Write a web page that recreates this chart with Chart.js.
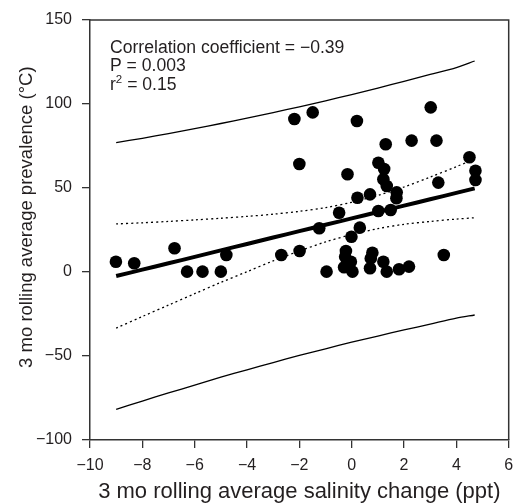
<!DOCTYPE html>
<html>
<head>
<meta charset="utf-8">
<script src="https://cdn.jsdelivr.net/npm/chart.js@4/dist/chart.umd.min.js"></script>
<style>
  html, body { margin: 0; padding: 0; background: #fff; }
  #wrap { width: 515px; height: 503px; }
</style>
</head>
<body>
<div id="wrap"><canvas id="c" width="515" height="503"></canvas></div>
<script>
// ---- Data ----
const salinityX = [-9.01, -8.31, -6.77, -6.29, -5.70, -5.00, -4.79, -2.69, -1.99,
  -2.19, -1.49, 0.20, 3.02, 1.30, 2.29, 3.24, -2.00,
  1.02, 1.24, 1.21, 1.34, -0.16, 0.22, 0.70, 1.72, 1.71, 3.31, 4.50, 4.73, 4.73,
  -0.48, 1.02, 1.49, -1.24, 0.31, -0.01,
  -0.22, -0.25, -0.03, -0.29, 0.03, -0.96, 0.79, 0.73, 1.21, 0.70, 1.34, 1.81, 2.19, 3.52];
const prevalenceY = [6.1, 5.2, 14.1, 0.2, 0.2, 0.2, 10.1, 10.1, 12.5,
  91.1, 95.0, 89.9, 98.0, 76.0, 78.2, 78.2, 64.3,
  65.0, 61.3, 55.2, 51.2, 58.2, 44.2, 46.2, 47.4, 43.9, 53.2, 68.3, 60.3, 54.8,
  35.3, 36.3, 36.9, 26.0, 26.4, 21.0,
  12.5, 9.1, 6.1, 2.8, 0.2, 0.2, 11.5, 8.1, 6.1, 2.2, 0.2, 1.6, 3.2, 10.1];

// regression line and bands, sampled along x
const bandX   = [-9, -8, -7, -6, -5, -4, -3, -2, -1, 0, 1, 2, 3, 4, 4.7];
const fitY    = [-2.4, 1.4, 5.2, 9.0, 12.9, 16.7, 20.5, 24.3, 28.1, 31.9, 35.7, 39.5, 43.3, 47.1, 49.8];
const ciUpper = [28.6, 29.3, 30.1, 31.0, 32.0, 33.1, 34.4, 36.1, 38.3, 41.5, 45.6, 50.6, 56.5, 62.7, 67.3];
const ciLower = [-33.4, -26.5, -19.7, -12.9, -6.2, 0.2, 6.6, 12.5, 17.9, 22.3, 25.8, 28.4, 30.1, 31.5, 32.3];
const piUpper = [77.0, 79.6, 82.4, 85.3, 88.4, 91.6, 94.9, 98.3, 101.9, 105.6, 109.5, 113.5, 117.6, 121.7, 125.6];
const piLower = [-81.8, -76.8, -72.0, -67.3, -62.6, -58.2, -53.9, -49.7, -45.7, -41.8, -38.1, -34.5, -31.0, -27.5, -25.6];

const xTicks = [-10, -8, -6, -4, -2, 0, 2, 4, 6];
const yTicks = [-100, -50, 0, 50, 100, 150];

const statLines = ['Correlation coefficient = \u22120.39', 'P = 0.003'];
const r2Value = '0.15';

const xTitle = '3 mo rolling average salinity change (ppt)';
const yTitle = '3 mo rolling average prevalence (\u00B0C)';

// ---- helpers ----
const pairs = (xs, ys) => xs.map((x, i) => ({ x: x, y: ys[i] }));
const fmt = v => String(v).replace('-', '\u2212');
const INK = '#231f20';
const FONT = '"Liberation Sans", Arial, Helvetica, sans-serif';

const lineDs = (data, width, dash) => ({
  type: 'line', data: data, borderColor: '#000', backgroundColor: '#000',
  borderWidth: width, borderDash: dash || [], pointRadius: 0, pointHoverRadius: 0,
  fill: false, tension: 0.3, showLine: true, order: 2
});

const framePlugin = {
  id: 'frame',
  afterDraw(chart) {
    const { ctx, chartArea: a } = chart;
    ctx.save();
    ctx.strokeStyle = '#333';
    ctx.lineWidth = 1.5;
    ctx.beginPath();
    ctx.moveTo(a.left, a.top);
    ctx.lineTo(a.right, a.top);
    ctx.lineTo(a.right, a.bottom);
    ctx.stroke();
    // statistics text
    ctx.fillStyle = INK;
    ctx.textBaseline = 'alphabetic';
    ctx.textAlign = 'left';
    const F = '17.6px ' + FONT;
    ctx.font = F;
    const x0 = a.left + 20;
    ctx.fillText(statLines[0], x0, 52.5);
    ctx.fillText(statLines[1], x0, 71);
    ctx.fillText('r', x0, 90);
    const rw = ctx.measureText('r').width;
    ctx.font = '11.5px ' + FONT;
    ctx.fillText('2', x0 + rw, 83);
    const sw = ctx.measureText('2').width;
    ctx.font = F;
    ctx.fillText(' = ' + r2Value, x0 + rw + sw, 90);
    ctx.restore();
  }
};

new Chart(document.getElementById('c'), {
  type: 'scatter',
  data: {
    datasets: [
      lineDs(pairs(bandX, piUpper), 1.3),
      lineDs(pairs(bandX, piLower), 1.3),
      lineDs(pairs(bandX, ciUpper), 1.3, [2, 3]),
      lineDs(pairs(bandX, ciLower), 1.3, [2, 3]),
      lineDs(pairs(bandX, fitY), 4),
      {
        type: 'scatter', data: pairs(salinityX, prevalenceY),
        backgroundColor: '#000', borderColor: '#000', borderWidth: 0,
        pointRadius: 6.3, pointHoverRadius: 6.3, order: 1
      }
    ]
  },
  options: {
    responsive: false,
    animation: false,
    devicePixelRatio: 1,
    events: [],
    layout: { padding: { left: 0, right: 5, top: 20, bottom: 0 } },
    plugins: { legend: { display: false }, tooltip: { enabled: false } },
    scales: {
      x: {
        type: 'linear', min: -10, max: 6,
        afterBuildTicks: s => { s.ticks = xTicks.map(v => ({ value: v })); },
        afterFit: s => { s.height = 63; s.paddingLeft = 0; s.paddingRight = 0; },
        ticks: { callback: fmt, color: INK, padding: 8, maxRotation: 0, autoSkip: false,
                 font: { family: FONT, size: 16 } },
        grid: { drawOnChartArea: false, drawTicks: true, tickLength: 8, color: '#333', lineWidth: 1.3 },
        border: { color: '#333', width: 1.5 },
        title: { display: true, text: xTitle, color: INK, padding: { top: 0, bottom: 0 },
                 font: { family: FONT, size: 22, lineHeight: 1.0 } }
      },
      y: {
        type: 'linear', min: -100, max: 150,
        afterBuildTicks: s => { s.ticks = yTicks.map(v => ({ value: v })); },
        afterFit: s => { s.width = 90; s.paddingTop = 0; s.paddingBottom = 0; },
        ticks: { callback: fmt, color: INK, padding: 10, autoSkip: false,
                 font: { family: FONT, size: 16 } },
        grid: { drawOnChartArea: false, drawTicks: true, tickLength: 8, color: '#333', lineWidth: 1.3 },
        border: { color: '#333', width: 1.5 },
        title: { display: true, text: '     ' + yTitle, color: INK, padding: { top: 16, bottom: 0 },
                 font: { family: FONT, size: 18.5 } }
      }
    }
  },
  plugins: [framePlugin]
});
</script>
</body>
</html>
